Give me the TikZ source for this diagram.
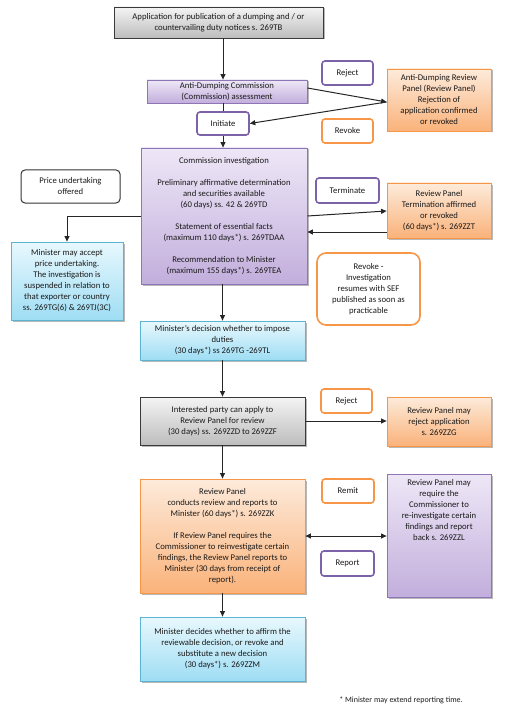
\documentclass[tikz,border=0pt]{standalone}
\usepackage{fontspec}
\setmainfont{Carlito}
\usetikzlibrary{shadows,arrows.meta}
\definecolor{gtop}{HTML}{F4F4F4}
\definecolor{gbot}{HTML}{BDBDBD}
\definecolor{gline}{HTML}{3A3A3A}
\definecolor{ptop}{HTML}{EEE7F7}
\definecolor{pbot}{HTML}{C2AEDC}
\definecolor{pline}{HTML}{8E76B6}
\definecolor{otop}{HTML}{FDEBDB}
\definecolor{obot}{HTML}{FAB27A}
\definecolor{oline}{HTML}{F79646}
\definecolor{ctop}{HTML}{E8F8FD}
\definecolor{cbot}{HTML}{9EDDF4}
\definecolor{cline}{HTML}{5BB5D0}
\definecolor{lpur}{HTML}{7C62A8}
\definecolor{txt}{HTML}{1A1A1A}
\begin{document}
\begin{tikzpicture}[x=1pt,y=-1pt,
  base/.style={align=center, inner sep=1pt, text=txt, font=\fontsize{8.7}{11}\selectfont},
  shad/.style={drop shadow={shadow xshift=1.5pt, shadow yshift=-1.5pt, opacity=0.28, fill=black}},
  greybox/.style={base, shad, draw=gline, line width=0.8pt, top color=gtop, bottom color=gbot},
  purbox/.style={base, shad, draw=pline, line width=0.8pt, top color=ptop, bottom color=pbot},
  orbox/.style={base, shad, draw=oline, line width=0.8pt, top color=otop, bottom color=obot},
  cybox/.style={base, shad, draw=cline, line width=0.8pt, top color=ctop, bottom color=cbot},
  plab/.style={base, draw=lpur, fill=white, line width=1.6pt, rounded corners=3pt},
  olab/.style={base, draw=oline, fill=white, line width=1.6pt, rounded corners=3pt},
  klab/.style={base, draw=black!80, fill=white, line width=1pt, rounded corners=4pt},
  conn/.style={draw=black!85, line width=1pt},
  arr/.style={conn, -{Triangle[length=5.5pt,width=5pt]}},
  darr/.style={conn, {Triangle[length=5.5pt,width=5pt]}-{Triangle[length=5.5pt,width=5pt]}}
]
\useasboundingbox (0,0) rectangle (507,714);

% main column
\node[greybox, minimum width=209pt, minimum height=31pt] (app) at (218.5,22.5)
  {Application for publication of a dumping and / or\\countervailing duty notices s. 269TB};
\node[purbox, minimum width=160pt, minimum height=23pt] (ada) at (227,91.5)
  {Anti-Dumping Commission\\(Commission) assessment};
\node[plab, minimum width=52pt, minimum height=23pt] (init) at (223,123.5) {Initiate};
\node[purbox, minimum width=166pt, minimum height=136pt] (ci) at (224,216)
  {Commission investigation\\[11pt]
   Preliminary affirmative determination\\and securities available\\(60 days) ss. 42 \& 269TD\\[11pt]
   Statement of essential facts\\(maximum 110 days*) s. 269TDAA\\[11pt]
   Recommendation to Minister\\(maximum 155 days*) s. 269TEA};
\node[cybox, minimum width=165pt, minimum height=39pt] (md) at (222.5,340.5)
  {Minister's decision whether to impose\\duties\\(30 days*) ss 269TG -269TL};
\node[greybox, minimum width=165pt, minimum height=48pt] (ip) at (222.5,421)
  {Interested party can apply to\\Review Panel for review\\(30 days) ss. 269ZZD to 269ZZF};
\node[orbox, minimum width=165pt, minimum height=114pt] (rp) at (222.5,536)
  {Review Panel\\conducts review and reports to\\Minister (60 days*) s. 269ZZK\\[11pt]
   If Review Panel requires the\\Commissioner to reinvestigate certain\\findings, the Review Panel reports to\\Minister (30 days from receipt of\\report).};
\node[cybox, minimum width=165pt, minimum height=64pt] (mdec) at (222.5,649)
  {Minister decides whether to affirm the\\reviewable decision, or revoke and\\substitute a new decision\\(30 days*) s. 269ZZM};

% left column
\node[klab, minimum width=99pt, minimum height=33pt] (pu) at (70.5,186.5)
  {Price undertaking\\offered};
\node[cybox, minimum width=112pt, minimum height=78pt] (mma) at (67,281)
  {Minister may accept\\price undertaking.\\The investigation is\\suspended in relation to\\that exporter or country\\ss. 269TG(6) \& 269TJ(3C)};

% label boxes
\node[plab, minimum width=51pt, minimum height=24pt] (rej1) at (347.5,73) {Reject};
\node[olab, minimum width=51pt, minimum height=24pt] (rev1) at (347.5,131) {Revoke};
\node[plab, minimum width=63pt, minimum height=25pt] (term) at (347.5,190.5) {Terminate};
\node[olab, minimum width=103pt, minimum height=72pt, rounded corners=9pt] (revinv) at (368.5,289)
  {Revoke -\\Investigation\\resumes with SEF\\published as soon as\\practicable};
\node[olab, minimum width=51pt, minimum height=24pt] (rej2) at (346.5,401) {Reject};
\node[olab, minimum width=52pt, minimum height=24pt] (remit) at (348,491) {Remit};
\node[plab, minimum width=53pt, minimum height=25pt] (report) at (347.5,563.5) {Report};

% right column
\node[orbox, minimum width=104pt, minimum height=62pt] (adrp) at (439,100)
  {Anti-Dumping Review\\Panel (Review Panel)\\Rejection of\\application confirmed\\or revoked};
\node[orbox, minimum width=104pt, minimum height=55pt] (rpt) at (439,210.5)
  {Review Panel\\Termination affirmed\\or revoked\\(60 days*) s. 269ZZT};
\node[orbox, minimum width=104pt, minimum height=49pt] (rpr) at (439,421.5)
  {Review Panel may\\reject application\\s. 269ZZG};
\node[purbox, minimum width=104pt, minimum height=123pt] (rpm) at (439,535.5) {};
\node[base, anchor=north] (rpmt) at ([yshift=-5pt]rpm.north)
  {Review Panel may\\require the\\Commissioner to\\re-investigate certain\\findings and report\\back s. 269ZZL};

\node[base, font=\fontsize{8}{9}\selectfont] (foot) at (401,700) {* Minister may extend reporting time.};

% connectors
\draw[arr] ([xshift=4.5pt]app.south) -- ([xshift=4.5pt]app.south |- ada.north);
\draw[arr] ([yshift=3.5pt]ada.east) -- ([yshift=-2pt]adrp.west);
\draw[arr] ([yshift=-2pt]adrp.west) -- (init.east);
\draw[conn] (init.north |- ada.south) -- (init.north);
\draw[arr] (init.south) -- (init.south |- ci.north);
\draw[arr] (ci.west) -| (mma.north);
\draw[arr] (ci.east) -- ([yshift=-0.5pt]rpt.west);
\draw[arr] ([yshift=-21.5pt]rpt.west) -- ([yshift=-16pt]ci.east);
\draw[arr] (ci.south -| md.north) -- (md.north);
\draw[arr] (md.south) -- (ip.north);
\draw[arr] (ip.east) -- (ip.east -| rpr.west);
\draw[arr] (ip.south) -- (rp.north);
\draw[darr] (rp.east) -- (rp.east -| rpm.west);
\draw[arr] (rp.south) -- (mdec.north);
\end{tikzpicture}
\end{document}
